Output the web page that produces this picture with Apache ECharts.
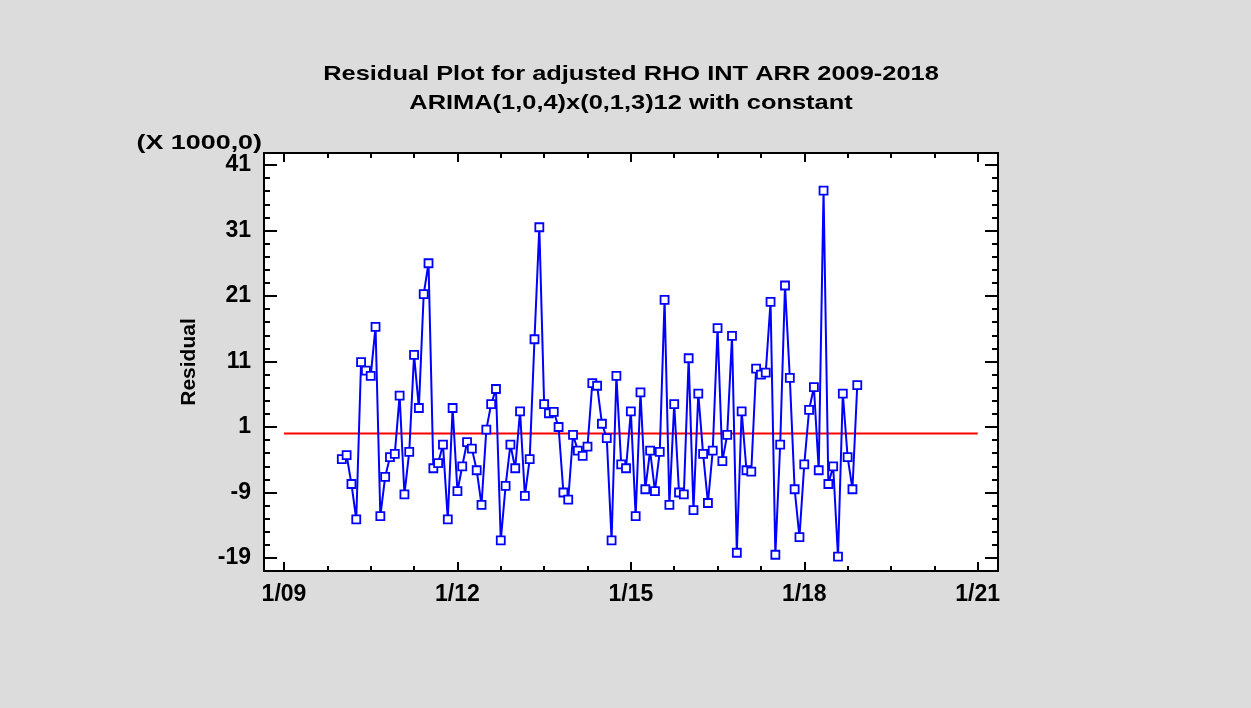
<!DOCTYPE html>
<html>
<head>
<meta charset="utf-8">
<title>Residual Plot</title>
<script src="https://cdn.jsdelivr.net/npm/echarts@6/dist/echarts.min.js"></script>
<style>
  html, body { margin: 0; padding: 0; background: #dcdcdc; }
  #chart { width: 1251px; height: 708px; }
</style>
</head>
<body>
<div id="chart"></div>
<script>
// months counted from 1/09 (Jan 2009 = 0); residuals start Jan 2010
const startMonth = 12;
const residuals = [
  -3.9, -3.3, -7.7, -13.1, 10.9, 9.6, 8.8, 16.3, -12.6, -6.6, -3.6, -3.1,
  5.8, -9.3, -2.8, 12.0, 3.9, 21.3, 26.0, -5.3, -4.5, -1.7, -13.1, 3.9,
  -8.8, -5.0, -1.3, -2.3, -5.6, -10.9, 0.6, 4.5, 6.8, -16.3, -8.0, -1.7,
  -5.3, 3.4, -9.5, -3.9, 14.4, 31.5, 4.5, 3.1, 3.3, 1.0, -9.0, -10.1,
  -0.2, -2.6, -3.4, -2.0, 7.7, 7.3, 1.5, -0.7, -16.3, 8.8, -4.7, -5.3,
  3.4, -12.6, 6.3, -8.5, -2.6, -8.8, -2.8, 20.4, -10.9, 4.5, -9.0, -9.3,
  11.5, -11.7, 6.1, -3.1, -10.6, -2.6, 16.1, -4.2, -0.2, 14.9, -18.2, 3.4,
  -5.6, -5.8, 9.9, 9.0, 9.3, 20.1, -18.5, -1.7, 22.6, 8.5, -8.5, -15.8,
  -4.7, 3.6, 7.1, -5.6, 37.1, -7.7, -5.0, -18.8, 6.1, -3.6, -8.5, 7.4
];
const refLineY = 0;
const xTickValues = [0, 36, 72, 108, 144];
const xTickLabels = ['1/09', '1/12', '1/15', '1/18', '1/21'];
const yTickValues = [-19, -9, 1, 11, 21, 31, 41];

const titleLines = [
  'Residual Plot for adjusted RHO INT ARR 2009-2018',
  'ARIMA(1,0,4)x(0,1,3)12 with constant'
];

// layout (pixels): outer box and the span between first/last ticks
const box = { left: 264, top: 153, right: 998, bottom: 571 };
const tk = { left: 284, top: 165, right: 977.7, bottom: 558 };
const W = 1251, H = 708;

const xFirst = xTickValues[0], xLast = xTickValues[xTickValues.length - 1];
const yFirst = yTickValues[0], yLast = yTickValues[yTickValues.length - 1];
const pxPerX = (tk.right - tk.left) / (xLast - xFirst);
const pxPerY = (tk.bottom - tk.top) / (yLast - yFirst);
const boxXMin = xFirst - (tk.left - box.left) / pxPerX;
const boxXMax = xLast + (box.right - tk.right) / pxPerX;
const boxYMin = yFirst - (box.bottom - tk.bottom) / pxPerY;
const boxYMax = yLast + (tk.top - box.top) / pxPerY;

const points = residuals.map((v, i) => [startMonth + i, v]);

const FONT = 'Liberation Sans';
const labelStyle = { color: '#000', fontFamily: FONT, fontWeight: 'bold', fontSize: 23 };

const tickAxisX = (pos, offset, showLabel) => ({
  type: 'value', gridIndex: 1, position: pos, offset: offset,
  min: xFirst, max: xLast, interval: xTickValues[1] - xTickValues[0],
  axisLine: { show: false, onZero: false },
  splitLine: { show: false },
  axisTick: { show: true, inside: true, length: 9, lineStyle: { color: '#000', width: 2 } },
  minorTick: { show: true, splitNumber: 4, length: 5, lineStyle: { color: '#000', width: 2 } },
  axisLabel: showLabel ? Object.assign({
    margin: 12,
    formatter: v => xTickLabels[xTickValues.indexOf(v)] || ''
  }, labelStyle) : { show: false }
});

const tickAxisY = (pos, offset, showLabel) => ({
  type: 'value', gridIndex: 1, position: pos, offset: offset,
  min: yFirst, max: yLast, interval: yTickValues[1] - yTickValues[0],
  axisLine: { show: false, onZero: false },
  splitLine: { show: false },
  axisTick: { show: true, inside: true, length: 13, lineStyle: { color: '#000', width: 2 } },
  minorTick: { show: true, splitNumber: 5, length: 6, lineStyle: { color: '#000', width: 2 } },
  axisLabel: showLabel ? Object.assign({
    margin: 13,
    formatter: v => String(Math.round(v))
  }, labelStyle) : { show: false }
});

const chart = echarts.init(document.getElementById('chart'));
chart.setOption({
  backgroundColor: '#dcdcdc',
  animation: false,
  grid: [
    {
      left: box.left, top: box.top, right: W - box.right, bottom: H - box.bottom,
      show: true, backgroundColor: '#fff', borderColor: '#000', borderWidth: 2
    },
    {
      left: tk.left, top: tk.top, right: W - tk.right, bottom: H - tk.bottom
    }
  ],
  xAxis: [
    {
      type: 'value', gridIndex: 0, min: boxXMin, max: boxXMax,
      axisLine: { show: false }, axisTick: { show: false },
      axisLabel: { show: false }, splitLine: { show: false }
    },
    tickAxisX('bottom', box.bottom - tk.bottom, true),
    tickAxisX('top', tk.top - box.top, false)
  ],
  yAxis: [
    {
      type: 'value', gridIndex: 0, min: boxYMin, max: boxYMax,
      axisLine: { show: false }, axisTick: { show: false },
      axisLabel: { show: false }, splitLine: { show: false },
      name: 'Residual', nameLocation: 'middle', nameGap: 64, nameRotate: 90,
      nameTextStyle: { color: '#000', fontFamily: FONT, fontWeight: 'bold', fontSize: 21 }
    },
    tickAxisY('left', tk.left - box.left, true),
    tickAxisY('right', box.right - tk.right, false)
  ],
  graphic: [
    {
      type: 'text', x: 631, y: 74, scaleX: 1.21,
      style: { text: titleLines[0], fill: '#000', font: 'bold 21px "Liberation Sans"', textAlign: 'center', textVerticalAlign: 'middle' }
    },
    {
      type: 'text', x: 631, y: 103, scaleX: 1.21,
      style: { text: titleLines[1], fill: '#000', font: 'bold 21px "Liberation Sans"', textAlign: 'center', textVerticalAlign: 'middle' }
    },
    {
      type: 'text', x: 262, y: 143, scaleX: 1.28,
      style: { text: '(X 1000,0)', fill: '#000', font: 'bold 21px "Liberation Sans"', textAlign: 'right', textVerticalAlign: 'middle' }
    }
  ],
  series: [
    {
      type: 'line', xAxisIndex: 0, yAxisIndex: 0,
      data: [[xFirst, refLineY], [xLast, refLineY]],
      symbol: 'none', silent: true,
      lineStyle: { color: '#ff0000', width: 2 }
    },
    {
      type: 'line', xAxisIndex: 0, yAxisIndex: 0,
      data: points,
      symbol: 'rect', symbolSize: 8, showAllSymbol: true,
      lineStyle: { color: '#0000ff', width: 2 },
      itemStyle: { color: '#fff', borderColor: '#0000ff', borderWidth: 1.8 }
    }
  ]
});
</script>
</body>
</html>
